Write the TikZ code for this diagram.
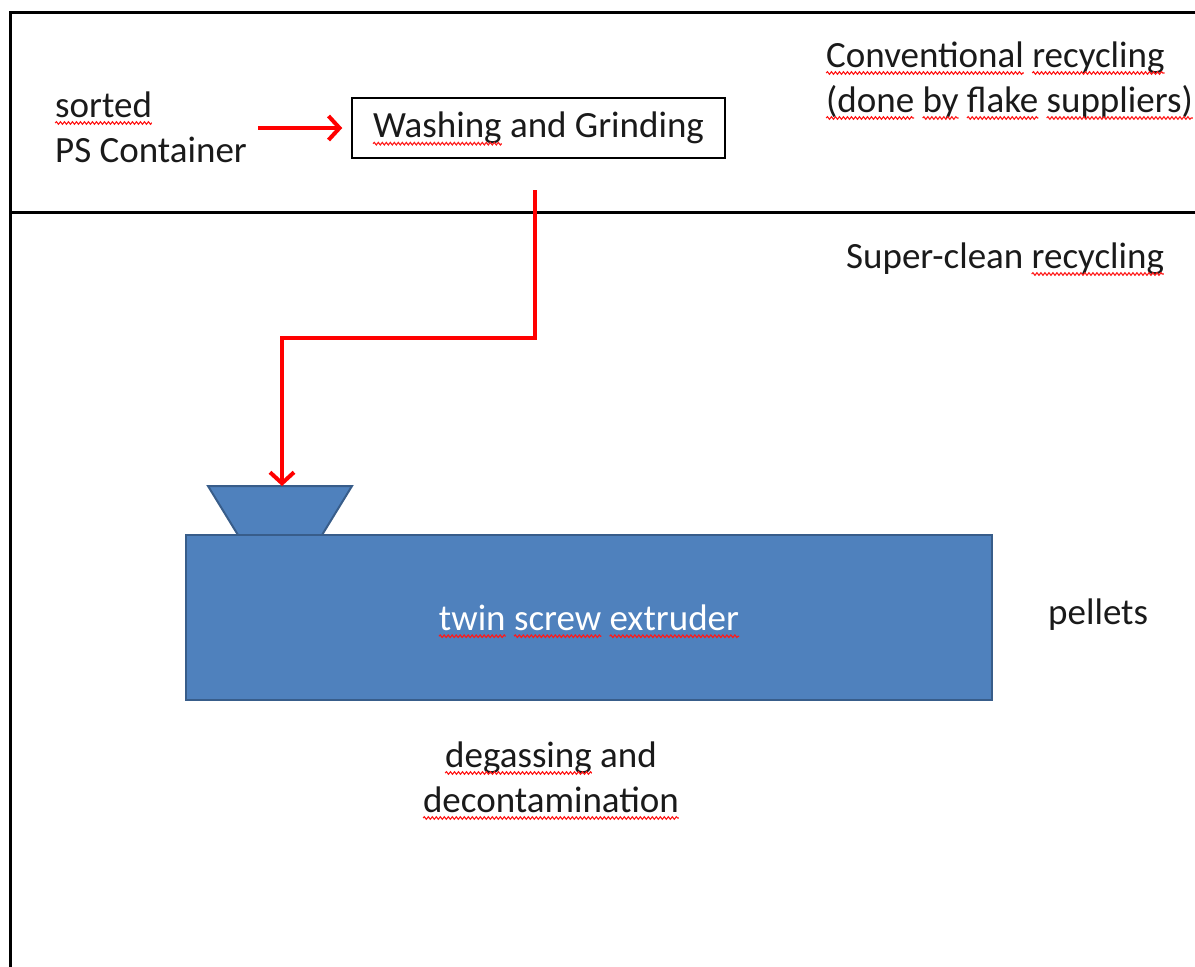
\documentclass[tikz,border=0pt]{standalone}
\usepackage{fontspec}
\setmainfont{Carlito}
\usetikzlibrary{arrows.meta,decorations.pathmorphing}
\definecolor{boxblue}{HTML}{4F81BD}
\definecolor{boxedge}{HTML}{385D8A}
\definecolor{txt}{HTML}{1A1A1A}
\newcommand\sq[2][txt]{\tikz[baseline=(w.base),x=1pt,y=1pt]{\node[inner sep=0pt,outer sep=0pt,text=#1,draw=none,fill=none,minimum width=0pt,minimum height=0pt] (w) {#2};
  \draw[overlay,red!90!white,line width=1.1pt,decorate,decoration={snake,amplitude=1.3pt,segment length=4pt}] ([yshift=-6pt]w.base west) -- ([yshift=-6pt]w.base east);}}
\tikzset{
  lbl/.style={font=\fontsize{37}{45}\selectfont, text=txt, inner sep=0pt},
  redarr/.style={draw=red, line width=4pt, -{Straight Barb[length=11pt,width=24pt,line width=4pt]}},
  framel/.style={line width=3pt, draw=black},
  bluepart/.style={fill=boxblue, draw=boxedge, line width=2pt}
}
\begin{document}
\begin{tikzpicture}[x=1pt,y=-1pt]
\useasboundingbox (0,0) rectangle (1195,967);
% frame
\draw[framel] (1205,12) -- (10,12) -- (10,980);
\draw[framel] (10,212) -- (1205,212);
% top section (multi-line nodes: base = last line)
\node[lbl, align=left, anchor=base west] (src) at (55,162) {\sq{sorted}\\PS Container};
\node[lbl, draw=black, line width=1.5pt, minimum width=373pt, minimum height=60pt] (wash) at (538.5,128) {\sq{Washing} and Grinding};
\node[lbl, align=left, anchor=base west] (conv) at (826,112) {\sq{Conventional} \sq{recycling}\\\sq{(done} \sq{by} \sq{flake} \sq{suppliers)}};
\node[lbl, anchor=base west] (super) at (846,268) {Super-clean \sq{recycling}};
% extruder
\draw[bluepart] (208,486) -- (352,486) -- (322,535) -- (238,535) -- cycle;
\coordinate (hop) at (282,486);
\node[lbl, bluepart, minimum width=806pt, minimum height=165pt, text=white] (ext) at (589,617.5) {\sq[white]{twin} \sq[white]{screw} \sq[white]{extruder}};
\node[lbl, anchor=base west] (pel) at (1048,624) {pellets};
\node[lbl, align=center, anchor=base] (deg) at (551,812) {\sq{degassing} and\\\sq{decontamination}};
% connectors
\coordinate (srcend) at (258,128);
\draw[redarr, shorten >=9pt] (srcend) -- (wash.west);
\coordinate (s) at (535,190);
\coordinate (k) at (535,338);
\draw[redarr] (s) -- (k) -| (hop);
\end{tikzpicture}
\end{document}
